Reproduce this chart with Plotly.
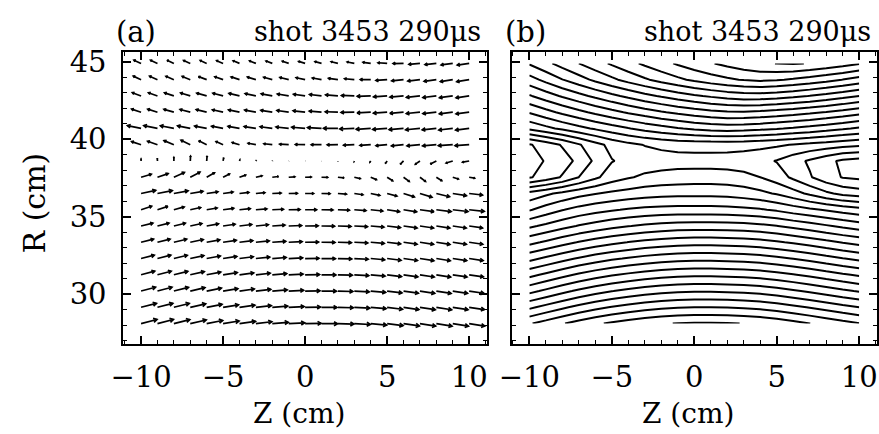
import numpy as np
import plotly.graph_objects as go
import plotly.figure_factory as ff

# ---------------- data ----------------
z_cm = [-10, -9, -8, -7, -6, -5, -4, -3, -2, -1, 0, 1, 2, 3, 4, 5, 6, 7, 8, 9, 10]
r_cm = [28.1, 29.15, 30.2, 31.25, 32.3, 33.35, 34.4, 35.45, 36.5, 37.55,
        38.6, 39.65, 40.7, 41.75, 42.8, 43.85, 44.9]

# flux function psi (arb. units), one row per R (bottom -> top), columns Z = -10..10
psi_flux = [
    [15.4, 15.91, 16.42, 16.9, 17.32, 17.67, 17.96, 18.22, 18.41, 18.54, 18.6, 18.6, 18.56, 18.48, 18.33, 18.11, 17.82, 17.51, 17.19, 16.86, 16.55],
    [13.3, 13.81, 14.32, 14.8, 15.22, 15.57, 15.86, 16.12, 16.31, 16.44, 16.5, 16.5, 16.46, 16.38, 16.24, 16.02, 15.74, 15.44, 15.12, 14.8, 14.5],
    [11.2, 11.71, 12.22, 12.7, 13.12, 13.47, 13.76, 14.02, 14.21, 14.34, 14.4, 14.4, 14.36, 14.28, 14.14, 13.92, 13.64, 13.34, 13.02, 12.7, 12.4],
    [9.2, 9.7, 10.19, 10.66, 11.06, 11.4, 11.68, 11.93, 12.11, 12.24, 12.3, 12.3, 12.26, 12.18, 12.05, 11.83, 11.56, 11.27, 10.95, 10.64, 10.35],
    [7.2, 7.68, 8.16, 8.61, 9.0, 9.33, 9.6, 9.84, 10.02, 10.14, 10.2, 10.2, 10.16, 10.08, 9.95, 9.73, 9.46, 9.17, 8.85, 8.54, 8.25],
    [5.2, 5.66, 6.13, 6.56, 6.94, 7.26, 7.52, 7.75, 7.93, 8.04, 8.1, 8.1, 8.06, 7.98, 7.85, 7.63, 7.36, 7.07, 6.75, 6.44, 6.15],
    [3.3, 3.73, 4.16, 4.57, 4.92, 5.22, 5.46, 5.68, 5.84, 5.95, 6.0, 6.0, 5.96, 5.88, 5.74, 5.52, 5.24, 4.94, 4.62, 4.3, 4.0],
    [1.4, 1.95, 2.45, 2.85, 3.15, 3.4, 3.6, 3.75, 3.85, 3.9, 3.9, 3.9, 3.85, 3.75, 3.6, 3.35, 3.0, 2.7, 2.4, 2.1, 1.85],
    [-0.2, 0.3, 0.75, 1.15, 1.45, 1.7, 1.9, 2.05, 2.15, 2.2, 2.2, 2.2, 2.15, 2.0, 1.75, 1.4, 0.9, 0.3, -0.3, -0.75, -1.0],
    [-3.6, -3.1, -2.4, -1.5, -0.7, 0.0, 0.4, 0.7, 0.85, 0.95, 1.0, 1.0, 0.95, 0.8, 0.5, 0.0, -0.7, -1.4, -2.1, -2.55, -2.7],
    [-3.8, -3.45, -2.95, -2.25, -1.3, -0.55, -0.25, -0.1, 0.0, 0.05, 0.05, 0.05, 0.0, -0.1, -0.25, -0.55, -1.1, -1.65, -2.2, -2.7, -2.9],
    [-3.6, -3.05, -2.4, -1.6, -0.85, -0.2, 0.25, 0.55, 0.75, 0.88, 0.93, 0.95, 0.95, 0.9, 0.8, 0.65, 0.45, 0.25, 0.05, -0.15, -0.3],
    [-0.3, 0.22, 0.72, 1.19, 1.64, 2.06, 2.45, 2.81, 3.13, 3.42, 3.66, 3.85, 3.95, 3.88, 3.75, 3.58, 3.38, 3.16, 2.91, 2.64, 2.35],
    [1.6, 2.17, 2.72, 3.23, 3.73, 4.19, 4.63, 5.03, 5.40, 5.73, 6.02, 6.25, 6.41, 6.42, 6.31, 6.14, 5.94, 5.71, 5.45, 5.16, 4.85],
    [3.4, 4.02, 4.62, 5.19, 5.73, 6.25, 6.74, 7.20, 7.62, 8.01, 8.35, 8.64, 8.89, 9.06, 9.07, 8.92, 8.72, 8.47, 8.18, 7.86, 7.5],
    [5.1, 5.79, 6.47, 7.1, 7.72, 8.29, 8.85, 9.36, 9.85, 10.29, 10.69, 11.05, 11.34, 11.57, 11.7, 11.59, 11.39, 11.13, 10.83, 10.48, 10.1],
    [6.6, 7.25, 7.89, 8.5, 9.08, 9.64, 10.18, 10.69, 11.17, 11.63, 12.05, 12.42, 12.77, 13.08, 13.33, 13.52, 13.59, 13.45, 13.22, 12.94, 12.6],
]

x_ticks = [-10, -5, 0, 5, 10]
y_ticks = [30, 35, 40, 45]
panel_tags = ["(a)", "(b)"]
panel_title = "shot 3453 290\u03bcs"

# ---------------- derived field: B from psi ----------------
z = np.array(z_cm, dtype=float)
r = np.array(r_cm, dtype=float)
psi = np.array(psi_flux, dtype=float)
ZZ, RR = np.meshgrid(z, r)
dpsi_dR = np.gradient(psi, r, axis=0)
dpsi_dZ = np.gradient(psi, z, axis=1)
BZ = -dpsi_dR / RR
BR = dpsi_dZ / RR

q = ff.create_quiver(ZZ.ravel(), RR.ravel(), BZ.ravel(), BR.ravel(),
                     scale=14.5, arrow_scale=0.25, angle=np.pi / 6,
                     scaleratio=0.94,
                     line=dict(color="black", width=1.7))
qtrace = q.data[0]
qtrace.update(xaxis="x", yaxis="y", showlegend=False, hoverinfo="skip")

fig = go.Figure()
fig.add_trace(qtrace)
fig.add_trace(go.Contour(
    x=z_cm, y=r_cm, z=psi_flux, xaxis="x2", yaxis="y2",
    contours=dict(coloring="lines", start=-3.5, end=18.5, size=1.0),
    colorscale=[[0, "black"], [1, "black"]],
    line=dict(width=2, smoothing=0),
    showscale=False, hoverinfo="skip",
))

W, H = 879, 434
FONT = "DejaVu Serif"
xl = [112 / W, 481 / W]
xr = [506 / W, 877 / W]
yd = [1 - 343 / H, 1 - 46 / H]

common_x = dict(range=[-11.08, 11.08], tickvals=x_ticks, ticks="inside", ticklen=8,
                tickwidth=1.5, tickcolor="black", showline=True, linewidth=2,
                linecolor="black", mirror="ticks", showgrid=False, zeroline=False,
                minor=dict(ticks="inside", dtick=1, ticklen=4, tickwidth=1.2,
                           tickcolor="black", showgrid=False),
                tickfont=dict(family=FONT, size=29, color="black"),
                ticklabelstandoff=6)
common_y = dict(range=[26.75, 45.62], tickvals=y_ticks, ticks="inside", ticklen=8,
                tickwidth=1.5, tickcolor="black", showline=True, linewidth=2,
                linecolor="black", mirror="ticks", showgrid=False, zeroline=False,
                minor=dict(ticks="inside", dtick=1, ticklen=4, tickwidth=1.2,
                           tickcolor="black", showgrid=False),
                tickfont=dict(family=FONT, size=29, color="black"),
                ticklabelstandoff=9)

fig.update_layout(
    width=W, height=H, margin=dict(l=0, r=0, t=0, b=0),
    paper_bgcolor="white", plot_bgcolor="white", showlegend=False,
    xaxis=dict(domain=xl, anchor="y", **common_x),
    yaxis=dict(domain=yd, anchor="x", **common_y),
    xaxis2=dict(domain=xr, anchor="y2", **common_x),
    yaxis2=dict(domain=yd, anchor="x2", showticklabels=False,
                **{k: v for k, v in common_y.items() if k not in ("tickfont", "ticklabelstandoff")}),
)

ann = []
for tag, dom in zip(panel_tags, [xl, xr]):
    ann.append(dict(text=tag, x=dom[0] - 9 / W, y=1 - 45 / H, xref="paper", yref="paper",
                    xanchor="left", yanchor="bottom", showarrow=False,
                    font=dict(family=FONT, size=29, color="black")))
    ann.append(dict(text=panel_title, x=dom[1] - 4 / W, y=1 - 43 / H, xref="paper", yref="paper",
                    xanchor="right", yanchor="bottom", showarrow=False,
                    font=dict(family=FONT, size=27, color="black")))
    ann.append(dict(text="Z (cm)", x=(dom[0] + dom[1]) / 2 - 6 / W, y=1 - 431 / H,
                    xref="paper", yref="paper", xanchor="center", yanchor="bottom",
                    showarrow=False, borderpad=0,
                    font=dict(family=FONT, size=28, color="black")))
ann.append(dict(text="R (cm)", x=22 / W, y=1 - 199 / H, xref="paper", yref="paper",
                xanchor="center", yanchor="middle", textangle=-90, showarrow=False,
                font=dict(family=FONT, size=30, color="black")))
fig.update_layout(annotations=ann)

fig.write_html("out.html")
